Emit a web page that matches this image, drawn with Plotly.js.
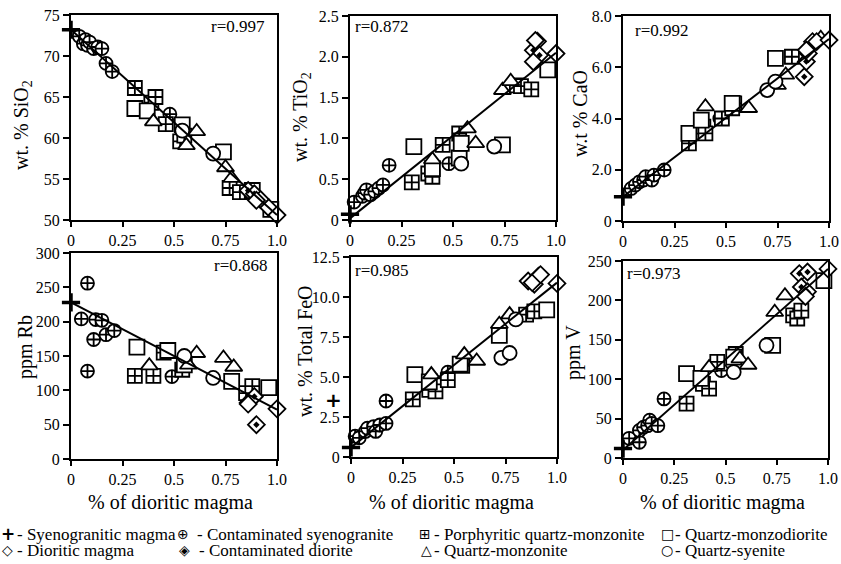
<!DOCTYPE html>
<html><head><meta charset="utf-8">
<script src="https://cdn.plot.ly/plotly-3.0.1.min.js"></script>
<style>html,body{margin:0;padding:0;background:#fff}#chart{width:841px;height:564px}</style>
</head><body><div id="chart"></div>
<script>
// ---------- data ----------
const mixX = [0, 1];
const xTickVals = [0, 0.25, 0.5, 0.75, 1.0];
const xTickText = ['0', '0.25', '0.5', '0.75', '1.0'];

// SiO2
const sio2_mix = [73.2, 50.6];
const sio2_sg_x = [0], sio2_sg_y = [73.2];
const sio2_csg_x = [0.04, 0.06, 0.07, 0.08, 0.09, 0.11, 0.13, 0.15, 0.17, 0.20, 0.48];
const sio2_csg_y = [72.4, 71.5, 72.0, 71.3, 71.7, 70.9, 71.1, 70.9, 69.1, 68.1, 62.9];
const sio2_pqm_x = [0.31, 0.39, 0.41, 0.46, 0.53, 0.55, 0.77, 0.82];
const sio2_pqm_y = [66.1, 64.3, 65.0, 61.7, 59.6, 60.3, 53.9, 53.4];
const sio2_qmd_x = [0.31, 0.37, 0.54, 0.74, 0.88, 0.97];
const sio2_qmd_y = [63.6, 63.3, 61.6, 58.3, 53.6, 51.3];
const sio2_qm_x = [0.40, 0.56, 0.61, 0.75, 0.78];
const sio2_qm_y = [62.0, 59.1, 60.8, 56.4, 55.1];
const sio2_qs_x = [0.54, 0.69];
const sio2_qs_y = [60.9, 58.1];
const sio2_cd_x = [0.86, 0.89, 0.92];
const sio2_cd_y = [53.6, 53.2, 52.5];
const sio2_dm_x = [0.90, 0.96, 1.0];
const sio2_dm_y = [52.4, 51.5, 50.6];

// TiO2
const tio2_mix = [0.02, 2.05];
const tio2_sg_x = [0], tio2_sg_y = [0.07];
const tio2_csg_x = [0.02, 0.06, 0.07, 0.08, 0.10, 0.12, 0.14, 0.16, 0.19, 0.48];
const tio2_csg_y = [0.22, 0.29, 0.33, 0.37, 0.31, 0.35, 0.39, 0.43, 0.67, 0.69];
const tio2_pqm_x = [0.30, 0.38, 0.40, 0.45, 0.53, 0.81, 0.83, 0.88];
const tio2_pqm_y = [0.46, 0.57, 0.53, 0.92, 1.06, 1.65, 1.64, 1.60];
const tio2_qmd_x = [0.31, 0.40, 0.53, 0.54, 0.74, 0.96];
const tio2_qmd_y = [0.90, 0.63, 0.76, 0.94, 0.92, 1.84];
const tio2_qm_x = [0.40, 0.57, 0.61, 0.74, 0.78];
const tio2_qm_y = [0.74, 1.12, 0.94, 1.59, 1.70];
const tio2_qs_x = [0.54, 0.70];
const tio2_qs_y = [0.69, 0.90];
const tio2_cd_x = [0.89, 0.91, 0.92];
const tio2_cd_y = [2.08, 2.19, 2.02];
const tio2_dm_x = [0.89, 0.90, 1.0];
const tio2_dm_y = [1.94, 2.20, 2.04];

// CaO
const cao_mix = [0.95, 7.1];
const cao_sg_x = [0], cao_sg_y = [0.95];
const cao_csg_x = [0.04, 0.06, 0.08, 0.10, 0.11, 0.14, 0.15, 0.20, 0.47];
const cao_csg_y = [1.27, 1.40, 1.53, 1.60, 1.73, 1.60, 1.79, 1.99, 4.0];
const cao_pqm_x = [0.32, 0.39, 0.40, 0.48, 0.53, 0.54, 0.82];
const cao_pqm_y = [3.03, 3.68, 3.42, 4.0, 4.4, 4.59, 6.41];
const cao_qmd_x = [0.32, 0.38, 0.53, 0.74];
const cao_qmd_y = [3.42, 3.94, 4.59, 6.35];
const cao_qm_x = [0.40, 0.61, 0.75, 0.79, 0.96];
const cao_qm_y = [4.46, 4.40, 5.30, 5.70, 7.13];
const cao_qs_x = [0.70, 0.74];
const cao_qs_y = [5.11, 5.44];
const cao_cd_x = [0.88, 0.89, 0.90, 0.92];
const cao_cd_y = [5.63, 6.22, 6.54, 7.0];
const cao_dm_x = [0.89, 0.94, 1.0];
const cao_dm_y = [6.67, 7.0, 7.06];

// Rb
const rb_mix = [228, 72];
const rb_sg_x = [0], rb_sg_y = [228];
const rb_csg_x = [0.05, 0.08, 0.08, 0.11, 0.12, 0.15, 0.17, 0.21, 0.49];
const rb_csg_y = [204, 256, 128, 174, 203, 202, 181, 187, 120];
const rb_pqm_x = [0.31, 0.40, 0.45, 0.54, 0.85, 0.88];
const rb_pqm_y = [121, 121, 155, 130, 96, 106];
const rb_qmd_x = [0.32, 0.47, 0.55, 0.78, 0.96];
const rb_qmd_y = [163, 158, 137, 113, 104];
const rb_qm_x = [0.38, 0.57, 0.61, 0.74, 0.79];
const rb_qm_y = [136, 137, 154, 147, 134];
const rb_qs_x = [0.55, 0.69];
const rb_qs_y = [150, 118];
const rb_cd_x = [0.86, 0.89, 0.90];
const rb_cd_y = [82, 91, 50];
const rb_dm_x = [0.86, 1.0];
const rb_dm_y = [80, 73];

// Total FeO
const feo_mix = [0.6, 10.9];
const feo_sg_x = [0], feo_sg_y = [0.6];
const feo_csg_x = [0.02, 0.04, 0.07, 0.08, 0.11, 0.12, 0.14, 0.17, 0.17, 0.47];
const feo_csg_y = [1.3, 1.2, 1.6, 1.8, 1.9, 1.6, 2.0, 2.1, 3.5, 5.3];
const feo_pqm_x = [0.30, 0.38, 0.41, 0.47, 0.54, 0.85, 0.89];
const feo_pqm_y = [3.6, 4.2, 4.1, 4.8, 5.7, 8.9, 9.1];
const feo_qmd_x = [0.31, 0.38, 0.53, 0.72, 0.95];
const feo_qmd_y = [5.15, 4.7, 5.8, 7.6, 9.2];
const feo_qm_x = [0.39, 0.55, 0.61, 0.72, 0.77];
const feo_qm_y = [5.15, 6.4, 6.0, 8.3, 8.9];
const feo_qs_x = [0.73, 0.77, 0.80];
const feo_qs_y = [6.2, 6.5, 8.6];
const feo_cd_x = [0.86, 0.89, 0.91];
const feo_cd_y = [11.0, 10.8, 11.3];
const feo_dm_x = [0.88, 0.92, 1.0];
const feo_dm_y = [10.9, 11.4, 10.85];

// V
const v_mix = [10, 240];
const v_sg_x = [0], v_sg_y = [12];
const v_csg_x = [0.03, 0.08, 0.08, 0.10, 0.12, 0.13, 0.14, 0.17, 0.20, 0.48];
const v_csg_y = [25, 20, 35, 39, 41, 48, 44, 41, 75, 111];
const v_pqm_x = [0.31, 0.39, 0.42, 0.46, 0.55, 0.83, 0.85, 0.87];
const v_pqm_y = [69, 94, 88, 122, 132, 181, 177, 187];
const v_qmd_x = [0.31, 0.38, 0.54, 0.73, 0.98];
const v_qmd_y = [107, 101, 128, 143, 225];
const v_qm_x = [0.42, 0.57, 0.61, 0.74, 0.79];
const v_qm_y = [115, 126, 118, 185, 206];
const v_qs_x = [0.54, 0.70];
const v_qs_y = [109, 143];
const v_cd_x = [0.86, 0.87, 0.90, 0.90];
const v_cd_y = [234, 217, 236, 211];
const v_dm_x = [0.89, 1.0];
const v_dm_y = [205, 240];

// labels
const yTitles = ['wt. % SiO<sub>2</sub>', 'wt. % TiO<sub>2</sub>', 'w.t % CaO', 'ppm Rb', 'wt. % Total FeO', 'ppm V'];
const rLabels = ['r=0.997', 'r=0.872', 'r=0.992', 'r=0.868', 'r=0.985', 'r=0.973'];
const xTitle = '% of dioritic magma';
const legendNames = ['- Syenogranitic magma', '- Contaminated syenogranite', '- Porphyritic quartz-monzonite', '- Quartz-monzodiorite',
                     '- Dioritic magma', '- Contaminated diorite', '- Quartz-monzonite', '- Quartz-syenite'];
const legendGlyphs = ['+', '\u2295', '\u229E', '\u25A1', '\u25C7', '\u25C8', '\u25B3', '\u25CB'];

// ---------- layout helpers ----------
const W = 841, H = 564;
const FONT = 'Liberation Serif';
const GLYPH_FONT = 'DejaVu Sans';
const px = x => x / W;
const py = y => 1 - y / H;

const panels = [
  {sets: {sg:[sio2_sg_x,sio2_sg_y], csg:[sio2_csg_x,sio2_csg_y], pqm:[sio2_pqm_x,sio2_pqm_y], qmd:[sio2_qmd_x,sio2_qmd_y], qm:[sio2_qm_x,sio2_qm_y], qs:[sio2_qs_x,sio2_qs_y], cd:[sio2_cd_x,sio2_cd_y], dm:[sio2_dm_x,sio2_dm_y]}, mix: sio2_mix,
   box:[71,277,15,220], range:[50,75], yt:[50,55,60,65,70,75], ytt:['50','55','60','65','70','75'],
   ttl:{x:23,y:125}, r:{x:267,y:27,anchor:'right'}},
  {sets: {sg:[tio2_sg_x,tio2_sg_y], csg:[tio2_csg_x,tio2_csg_y], pqm:[tio2_pqm_x,tio2_pqm_y], qmd:[tio2_qmd_x,tio2_qmd_y], qm:[tio2_qm_x,tio2_qm_y], qs:[tio2_qs_x,tio2_qs_y], cd:[tio2_cd_x,tio2_cd_y], dm:[tio2_dm_x,tio2_dm_y]}, mix: tio2_mix,
   box:[350,556,16,220], range:[0,2.5], yt:[0,0.5,1,1.5,2,2.5], ytt:['0','0.5','1.0','1.5','2.0','2.5'],
   ttl:{x:302,y:117}, r:{x:353,y:27,anchor:'left'}},
  {sets: {sg:[cao_sg_x,cao_sg_y], csg:[cao_csg_x,cao_csg_y], pqm:[cao_pqm_x,cao_pqm_y], qmd:[cao_qmd_x,cao_qmd_y], qm:[cao_qm_x,cao_qm_y], qs:[cao_qs_x,cao_qs_y], cd:[cao_cd_x,cao_cd_y], dm:[cao_dm_x,cao_dm_y]}, mix: cao_mix,
   box:[623,829,16,221], range:[0,8], yt:[0,2,4,6,8], ytt:['0','2.0','4.0','6.0','8.0'],
   ttl:{x:580,y:114}, r:{x:633,y:30,anchor:'left'}},
  {sets: {sg:[rb_sg_x,rb_sg_y], csg:[rb_csg_x,rb_csg_y], pqm:[rb_pqm_x,rb_pqm_y], qmd:[rb_qmd_x,rb_qmd_y], qm:[rb_qm_x,rb_qm_y], qs:[rb_qs_x,rb_qs_y], cd:[rb_cd_x,rb_cd_y], dm:[rb_dm_x,rb_dm_y]}, mix: rb_mix,
   box:[71,277,253,459], range:[0,300], yt:[0,50,100,150,200,250,300], ytt:['0','50','100','150','200','250','300'],
   ttl:{x:25,y:347}, r:{x:270,y:265,anchor:'right'}},
  {sets: {sg:[feo_sg_x,feo_sg_y], csg:[feo_csg_x,feo_csg_y], pqm:[feo_pqm_x,feo_pqm_y], qmd:[feo_qmd_x,feo_qmd_y], qm:[feo_qm_x,feo_qm_y], qs:[feo_qs_x,feo_qs_y], cd:[feo_cd_x,feo_cd_y], dm:[feo_dm_x,feo_dm_y]}, mix: feo_mix,
   box:[351,557,257,457], range:[0,12.5], yt:[0,2.5,5,7.5,10,12.5], ytt:['0','2.5','5.0','7.5','10.0','12.5'],
   ttl:{x:305,y:351}, r:{x:353,y:270,anchor:'left'}},
  {sets: {sg:[v_sg_x,v_sg_y], csg:[v_csg_x,v_csg_y], pqm:[v_pqm_x,v_pqm_y], qmd:[v_qmd_x,v_qmd_y], qm:[v_qm_x,v_qm_y], qs:[v_qs_x,v_qs_y], cd:[v_cd_x,v_cd_y], dm:[v_dm_x,v_dm_y]}, mix: v_mix,
   box:[623,828,261,458], range:[0,250], yt:[0,50,100,150,200,250], ytt:['0','50','100','150','200','250'],
   ttl:{x:573,y:353}, r:{x:625,y:273,anchor:'left'}}
];

const styles = [
  {k:'csg', sym:'circle-cross', size:13},
  {k:'pqm', sym:'square-cross', size:14},
  {k:'qmd', sym:'square', size:15},
  {k:'qm',  sym:'triangle-up', size:15},
  {k:'qs',  sym:'circle', size:14},
  {k:'cd',  sym:'diamond', size:13, dot:true},
  {k:'dm',  sym:'diamond', size:13},
];

const traces = [];
const layout = {
  width: W, height: H, margin: {l:0, r:0, t:0, b:0},
  paper_bgcolor: '#fff', plot_bgcolor: '#fff', showlegend: false,
  font: {family: FONT, size: 16, color: '#000'},
  annotations: []
};

panels.forEach((p, i) => {
  const n = i + 1;
  const xa = 'x' + (n === 1 ? '' : n), ya = 'y' + (n === 1 ? '' : n);
  const xk = 'xaxis' + (n === 1 ? '' : n), yk = 'yaxis' + (n === 1 ? '' : n);
  const [l, r, t, b] = p.box;
  layout[xk] = {
    domain: [px(l), px(r)], anchor: ya, range: [0, 1],
    tickmode: 'array', tickvals: xTickVals, ticktext: xTickText,
    ticks: 'outside', ticklen: 5, tickwidth: 2, tickcolor: '#000',
    showline: true, linewidth: 2, linecolor: '#000', mirror: true,
    showgrid: false, zeroline: false, tickfont: {family: FONT, size: 16, color: '#000'}
  };
  layout[yk] = {
    domain: [py(b), py(t)], anchor: xa, range: p.range,
    tickmode: 'array', tickvals: p.yt, ticktext: p.ytt,
    ticks: 'outside', ticklen: 6, tickwidth: 2, tickcolor: '#000', ticklabelstandoff: 0,
    showline: true, linewidth: 2, linecolor: '#000', mirror: true,
    showgrid: false, zeroline: false, tickfont: {family: FONT, size: 16, color: '#000'}
  };
  styles.forEach(s => {
    const d = p.sets[s.k];
    traces.push({type:'scatter', mode:'markers', x:d[0], y:d[1], xaxis:xa, yaxis:ya, cliponaxis:false, hoverinfo:'skip',
      marker:{symbol:s.sym, size:s.size, color:'#fff', line:{color:'#000', width:1.8}}});
    if (s.dot) {
      traces.push({type:'scatter', mode:'markers', x:d[0], y:d[1], xaxis:xa, yaxis:ya, cliponaxis:false, hoverinfo:'skip',
        marker:{symbol:'diamond', size:5, color:'#000', line:{width:0}}});
    }
  });
  const sg = p.sets.sg;
  traces.push({type:'scatter', mode:'markers', x:sg[0], y:sg[1], xaxis:xa, yaxis:ya, cliponaxis:false, hoverinfo:'skip',
    marker:{symbol:'cross-thin', size:13, color:'#000', line:{color:'#000', width:3.5}}});
  traces.push({type:'scatter', mode:'lines', x:mixX, y:p.mix, xaxis:xa, yaxis:ya, cliponaxis:false, hoverinfo:'skip',
    line:{color:'#000', width:2}});

  layout.annotations.push({xref:'paper', yref:'paper', x:px(p.ttl.x), y:py(p.ttl.y), text:yTitles[i], textangle:-90,
    showarrow:false, xanchor:'center', yanchor:'middle', font:{family:FONT, size:20, color:'#000'}});
  layout.annotations.push({xref:'paper', yref:'paper', x:px(p.r.x), y:py(p.r.y), text:rLabels[i],
    showarrow:false, xanchor:p.r.anchor, yanchor:'middle', font:{family:FONT, size:17, color:'#000'}});
});

// x-axis titles under the bottom row
[170, 452, 722].forEach(cx => {
  layout.annotations.push({xref:'paper', yref:'paper', x:px(cx), y:py(502), text:xTitle, showarrow:false,
    xanchor:'center', yanchor:'middle', font:{family:FONT, size:20, color:'#000'}});
});

// stray plus sign beside the FeO axis
layout.annotations.push({xref:'paper', yref:'paper', x:px(333), y:py(400), text:'<b>+</b>', showarrow:false,
  xanchor:'center', yanchor:'middle', font:{family:GLYPH_FONT, size:20, color:'#000'}});

// legend
const glyphX = [8, 183, 425, 667, 8, 184, 426, 667];
const textX = [15, 195, 432, 673, 15, 197, 432, 673];
const rowY = [534, 550];
legendNames.forEach((name, i) => {
  const row = i < 4 ? 0 : 1;
  layout.annotations.push({xref:'paper', yref:'paper', x:px(glyphX[i]), y:py(rowY[row]), text: i === 0 ? '<b>+</b>' : legendGlyphs[i],
    showarrow:false, xanchor:'center', yanchor:'middle', font:{family:GLYPH_FONT, size: i === 0 ? 17 : 14, color:'#000'}});
  layout.annotations.push({xref:'paper', yref:'paper', x:px(textX[i]), y:py(rowY[row]), text:name,
    showarrow:false, xanchor:'left', yanchor:'middle', font:{family:FONT, size:17, color:'#000'}});
});

Plotly.newPlot('chart', traces, layout, {staticPlot: true, displayModeBar: false});
</script></body></html>
